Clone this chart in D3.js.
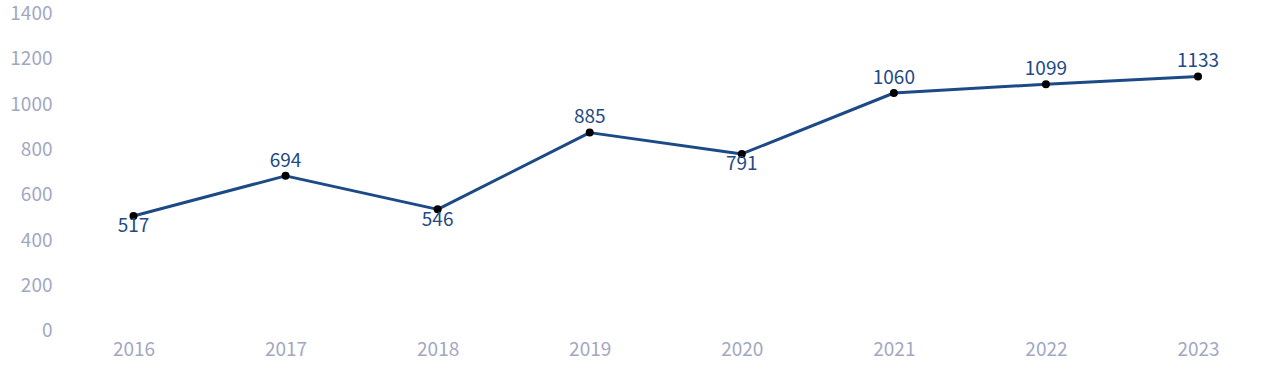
<!DOCTYPE html>
<html>
<head>
<meta charset="utf-8">
<script src="https://cdn.jsdelivr.net/npm/d3@7"></script>
<style>
html,body{margin:0;padding:0;background:#fff;}
svg{display:block;font-family:"Noto Sans CJK SC","Noto Sans",sans-serif;}
</style>
</head>
<body>
<svg id="chart" width="1280" height="382"></svg>
<script>
const years = ["2016","2017","2018","2019","2020","2021","2022","2023"];
const values = [517, 694, 546, 885, 791, 1060, 1099, 1133];
const yTicks = [0, 200, 400, 600, 800, 1000, 1200, 1400];

const svg = d3.select("#chart");
const x = d3.scalePoint().domain(years).range([133.5, 1198]);
const y = d3.scaleLinear().domain([0, 1400]).range([333, 16]);

const axisColor = "#a3a8c2";
const lineColor = "#1c4a87";
const labelColor = "#1f4a86";
const fontFam = '"Noto Sans CJK SC","Noto Sans",sans-serif';

// y axis labels
const yAxis = d3.axisLeft(y).tickValues(yTicks).tickFormat(d3.format("d")).tickSize(0).tickPadding(0);
const gy = svg.append("g").attr("transform", "translate(52.5,-2.5)").call(yAxis);
gy.select(".domain").remove();
gy.selectAll("text").attr("fill", axisColor).attr("font-size", 19).attr("font-family", fontFam);

// x axis labels
const xAxis = d3.axisBottom(x).tickSize(0).tickPadding(0);
const gx = svg.append("g").attr("transform", "translate(0,342)").call(xAxis);
gx.select(".domain").remove();
gx.selectAll("text").attr("fill", axisColor).attr("font-size", 19).attr("font-family", fontFam);

const data = years.map((yr, i) => ({yr, v: values[i], i}));

svg.append("path")
  .datum(data)
  .attr("fill", "none")
  .attr("stroke", lineColor)
  .attr("stroke-width", 3)
  .attr("stroke-linejoin", "round")
  .attr("d", d3.line().x(d => x(d.yr)).y(d => y(d.v)));

svg.selectAll("circle.pt").data(data).join("circle")
  .attr("class", "pt")
  .attr("cx", d => x(d.yr)).attr("cy", d => y(d.v))
  .attr("r", 4).attr("fill", "#000");

function isValley(i) {
  const prev = i > 0 ? values[i-1] : Infinity;
  const next = i < values.length - 1 ? values[i+1] : Infinity;
  return values[i] < prev && values[i] < next;
}

svg.selectAll("text.lbl").data(data).join("text")
  .attr("class", "lbl")
  .attr("x", d => x(d.yr))
  .attr("y", d => y(d.v) + (isValley(d.i) ? 9.5 : -16))
  .attr("dy", "0.35em")
  .attr("text-anchor", "middle")
  .attr("fill", labelColor)
  .attr("font-size", 19)
  .attr("font-family", fontFam)
  .text(d => d.v);
</script>
</body>
</html>
